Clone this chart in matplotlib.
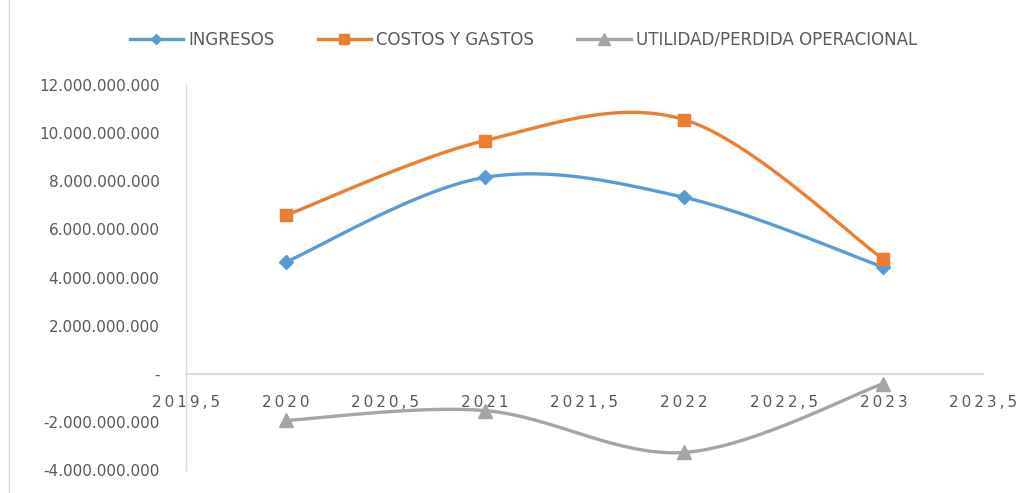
import numpy as np
import matplotlib
matplotlib.use('Agg')
import matplotlib.pyplot as plt
from matplotlib.ticker import FuncFormatter, MultipleLocator
from matplotlib.lines import Line2D

years = [2020, 2021, 2022, 2023]
ingresos = [4.64e9, 8.16e9, 7.33e9, 4.43e9]
costos = [6.58e9, 9.69e9, 10.56e9, 4.76e9]
utilidad = [-1.94e9, -1.53e9, -3.27e9, -0.41e9]

series = [
    ('INGRESOS', ingresos, '#5B9BD5', 'D', 7),
    ('COSTOS Y GASTOS', costos, '#ED7D31', 's', 9),
    ('UTILIDAD/PERDIDA OPERACIONAL', utilidad, '#A5A5A5', '^', 10),
]


def smooth(x, y, n=40):
    """Excel-like smoothed line (Catmull-Rom bezier)"""
    x = np.asarray(x, float)
    y = np.asarray(y, float)
    px = np.concatenate([[x[0]], x, [x[-1]]])
    py = np.concatenate([[y[0]], y, [y[-1]]])
    xs, ys = [], []
    t = np.linspace(0, 1, n)
    for i in range(1, len(px) - 2):
        p0 = np.array([px[i], py[i]])
        p3 = np.array([px[i + 1], py[i + 1]])
        c1 = p0 + (np.array([px[i + 1], py[i + 1]]) - np.array([px[i - 1], py[i - 1]])) / 6
        c2 = p3 - (np.array([px[i + 2], py[i + 2]]) - np.array([px[i], py[i]])) / 6
        b = ((1 - t) ** 3)[:, None] * p0 + (3 * (1 - t) ** 2 * t)[:, None] * c1 \
            + (3 * (1 - t) * t ** 2)[:, None] * c2 + (t ** 3)[:, None] * p3
        xs.extend(b[:, 0])
        ys.extend(b[:, 1])
    return xs, ys


fig = plt.figure(figsize=(10.26, 4.93), dpi=100)
ax = fig.add_axes([186 / 1026, 1 - 470 / 493, (983 - 186) / 1026, (470 - 85) / 493])

handles = []
for name, vals, color, marker, ms in series:
    sx, sy = smooth(years, vals)
    ax.plot(sx, sy, color=color, linewidth=2.4, zorder=3)
    ax.plot(years, vals, linestyle='none', marker=marker, color=color, markersize=ms, zorder=4)
    handles.append(Line2D([0], [0], color=color, linewidth=2.4, marker=marker, markersize=ms - 2, label=name))

ax.set_xlim(2019.5, 2023.5)
ax.set_ylim(-4e9, 12e9)
ax.xaxis.set_major_locator(MultipleLocator(0.5))
ax.yaxis.set_major_locator(MultipleLocator(2e9))


def fmt_y(v, pos):
    if abs(v) < 1:
        return '-'
    return f'{v:,.0f}'.replace(',', '.')


def fmt_x(v, pos):
    s = f'{v:g}'.replace('.', ',')
    return '\u2009'.join(s)


ax.yaxis.set_major_formatter(FuncFormatter(fmt_y))
ax.xaxis.set_major_formatter(FuncFormatter(fmt_x))

for s in ['top', 'right']:
    ax.spines[s].set_visible(False)
ax.spines['bottom'].set_position(('data', 0))
ax.spines['bottom'].set_color('#D9D9D9')
ax.spines['bottom'].set_linewidth(1.3)
ax.spines['left'].set_color('#D9D9D9')
ax.spines['left'].set_linewidth(1.0)
ax.tick_params(axis='both', length=0, colors='#595959', labelsize=11)
ax.tick_params(axis='x', pad=15)
ax.tick_params(axis='y', pad=19)

fig.legend(handles=handles, loc='center', bbox_to_anchor=(0.51, 1 - 40 / 493), ncol=3,
           frameon=False, fontsize=12, handlelength=3.2, columnspacing=2.6, handletextpad=0.3,
           labelcolor='#595959')

fig.add_artist(Line2D([9 / 1026, 9 / 1026], [0, 1], color='#D9D9D9', linewidth=1))

plt.savefig('out.png', dpi=100)
plt.close()
